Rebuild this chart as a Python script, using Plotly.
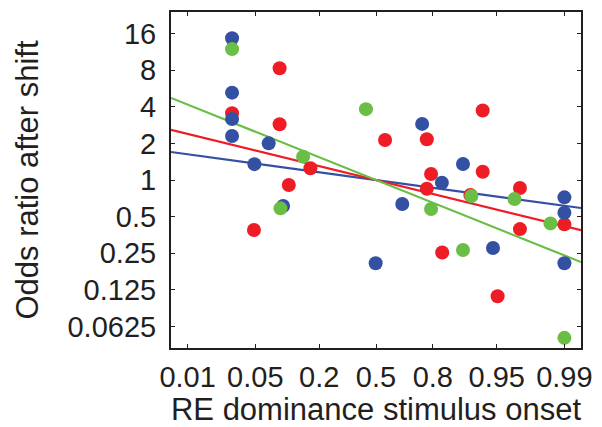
import numpy as np
import plotly.graph_objects as go

# ---- data ----
tick_probs = [0.01, 0.05, 0.2, 0.5, 0.8, 0.95, 0.99]
tick_labels = ["0.01", "0.05", "0.2", "0.5", "0.8", "0.95", "0.99"]
y_ticks = [0.0625, 0.125, 0.25, 0.5, 1, 2, 4, 8, 16]
y_tick_labels = ["0.0625", "0.125", "0.25", "0.5", "1", "2", "4", "8", "16"]

blue_x = [0.029, 0.029, 0.029, 0.029, 0.049, 0.068, 0.094, 0.498, 0.755, 0.893,
          0.833, 0.655, 0.9455, 0.990, 0.990, 0.990]
blue_y = [14.6, 5.22, 3.17, 2.30, 1.35, 2.00, 0.611, 0.207, 2.89, 1.354,
          0.950, 0.635, 0.276, 0.72, 0.538, 0.207]

red_x = [0.029, 0.087, 0.087, 0.1065, 0.168, 0.0485, 0.555, 0.931, 0.7755, 0.793,
         0.7755, 0.931, 0.971, 0.971, 0.834, 0.951, 0.990, 0.909]
red_y = [3.54, 8.29, 2.87, 0.91, 1.25, 0.388, 2.13, 3.72, 2.16, 1.12,
         0.848, 1.17, 0.859, 0.395, 0.254, 0.111, 0.432, 0.753]

green_x = [0.029, 0.1446, 0.0887, 0.439, 0.793, 0.911, 0.967, 0.986, 0.893, 0.990]
green_y = [11.9, 1.555, 0.585, 3.82, 0.577, 0.739, 0.698, 0.440, 0.266, 0.0505]

# regression slopes (log2 odds ratio per logit unit), lines pass through (0.5, 1)
slope_blue = -0.153
slope_red = -0.274
slope_green = -0.448

BLUE = "#3350A3"
RED = "#EE1C25"
GREEN = "#6ABD45"
AXIS = "#231F20"


def logit(p):
    p = np.asarray(p, dtype=float)
    return np.log(p / (1 - p))


x_range = [-5.0, 5.0]
y_lim = 24.0

fig = go.Figure()

xl = np.array(x_range)
for slope, col in [(slope_blue, BLUE), (slope_red, RED), (slope_green, GREEN)]:
    fig.add_trace(go.Scatter(x=xl, y=2.0 ** (slope * xl), mode="lines",
                             line=dict(color=col, width=2.2), hoverinfo="skip"))

for xs, ys, col in [(red_x, red_y, RED), (blue_x, blue_y, BLUE), (green_x, green_y, GREEN)]:
    fig.add_trace(go.Scatter(x=logit(xs), y=ys, mode="markers",
                             marker=dict(color=col, size=14, line=dict(width=0)),
                             cliponaxis=False))

font_family = "Liberation Sans, Arial, Helvetica, sans-serif"

fig.update_layout(
    width=602, height=427,
    margin=dict(l=171, r=21, t=12, b=79),
    paper_bgcolor="white", plot_bgcolor="white",
    showlegend=False,
    font=dict(family=font_family, color=AXIS),
    xaxis=dict(
        range=x_range, tickmode="array",
        tickvals=logit(tick_probs), ticktext=tick_labels,
        ticks="inside", ticklen=4, tickcolor=AXIS, tickwidth=1,
        showline=True, linecolor=AXIS, linewidth=2, mirror="ticks",
        showgrid=False, zeroline=False, automargin=False,
        tickfont=dict(size=29),
        ticklabelstandoff=2,
        title=dict(text="RE dominance stimulus onset", font=dict(size=31), standoff=12),
    ),
    yaxis=dict(
        type="log", range=[np.log10(1 / y_lim), np.log10(y_lim)],
        tickmode="array", tickvals=y_ticks, ticktext=y_tick_labels,
        ticks="inside", ticklen=4, tickcolor=AXIS, tickwidth=1,
        showline=True, linecolor=AXIS, linewidth=2, mirror="ticks",
        showgrid=False, zeroline=False, automargin=False,
        tickfont=dict(size=29),
        ticklabelstandoff=7,
        title=dict(text="Odds ratio after shift", font=dict(size=31), standoff=20),
    ),
)

fig.write_html("out.html", config={"displayModeBar": False},
               post_script="document.body.style.margin='0px';")
